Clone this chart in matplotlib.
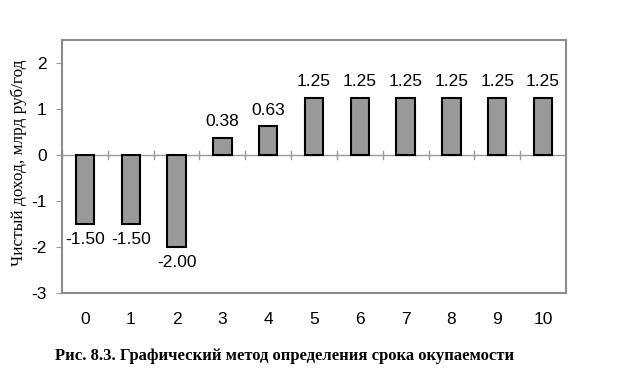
import numpy as np
from matplotlib import pyplot as plt

# data
years = np.arange(0, 11)
income = [-1.50, -1.50, -2.00, 0.38, 0.63, 1.25, 1.25, 1.25, 1.25, 1.25, 1.25]
labels = ['%.2f' % v for v in income]
yticks = [-3, -2, -1, 0, 1, 2]

fig = plt.figure(figsize=(6.29, 3.85), dpi=100)
ax = fig.add_axes([62/629, 1-293/385, (566-62)/629, (293-40)/385])

ax.bar(years, income, width=0.4, color='#999999', edgecolor='black', linewidth=1.5, zorder=3)

# zero line with category ticks crossing it
ax.axhline(0, color='#999999', lw=1, zorder=2)
for xb in np.arange(-0.5, 11, 1.0):
    ax.plot([xb, xb], [-0.08, 0.08], color='#999999', lw=1, zorder=2)

for x, v, s in zip(years, income, labels):
    if v < 0:
        ax.annotate(s, (x, v), xytext=(0, -6), textcoords='offset points',
                    ha='center', va='top', fontsize=12.5, family='Liberation Sans')
    else:
        ax.annotate(s, (x, v), xytext=(0, 6), textcoords='offset points',
                    ha='center', va='bottom', fontsize=12.5, family='Liberation Sans')

ax.set_xlim(-0.5, 10.5)
ax.set_ylim(-3, 2.5)
ax.set_yticks(yticks)
ax.set_yticklabels([str(t) for t in yticks], family='Liberation Sans', fontsize=12.5)
ax.set_xticks(years)
ax.set_xticklabels([str(x) for x in years], family='Liberation Sans', fontsize=12.5)
ax.tick_params(axis='x', length=0, pad=14)
ax.tick_params(axis='y', length=4, direction='out', color='#999999', pad=7)

for sp in ax.spines.values():
    sp.set_color('#8c8c8c')
    sp.set_linewidth(1.5)

ax.set_ylabel('Чистый доход, млрд руб/год', family='Liberation Serif', fontsize=12.4)
ax.yaxis.set_label_coords((27-62)/504, (293-163)/253)

fig.text(55/629, 1-356/385, 'Рис. 8.3. Графический метод определения срока окупаемости',
         family='Liberation Serif', fontweight='bold', fontsize=12, va='center')

fig.savefig('out.png', dpi=100)
